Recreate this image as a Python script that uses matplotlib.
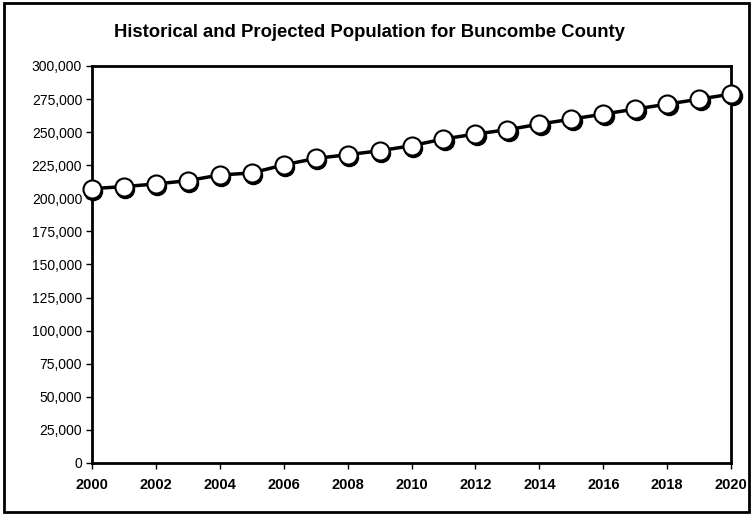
import numpy as np
import matplotlib
matplotlib.use("Agg")
import matplotlib.pyplot as plt
import matplotlib.transforms as mtransforms
from matplotlib.ticker import FuncFormatter

plt.rcParams['font.family'] = ['Liberation Sans', 'DejaVu Sans']

# datos
years = list(range(2000, 2021))
population = [207300, 208800, 210800, 213300, 217600, 219100, 225200,
              230100, 232900, 235900, 239700, 244800, 248500, 251800,
              256000, 259800, 263600, 267400, 271100, 274900, 278700]
year_ticks = list(range(2000, 2021, 2))
pop_ticks = list(range(0, 300001, 25000))

fig = plt.figure(figsize=(7.53, 5.15), dpi=100)
ax = fig.add_axes([0.122, 0.101, 0.849, 0.771])

# sombra de los marcadores
shadow = mtransforms.offset_copy(ax.transData, fig=fig, x=1.5, y=-2, units='dots')
ax.plot(years, population, linestyle='none', marker='o', markersize=13,
        markerfacecolor='black', markeredgecolor='black', transform=shadow,
        clip_on=False, zorder=2)
ax.plot(years, population, color='black', linewidth=2.5, marker='o',
        markersize=13, markerfacecolor='white', markeredgecolor='black',
        markeredgewidth=1.5, clip_on=False, zorder=3)

ax.set_xlim(2000, 2020)
ax.set_ylim(0, 300000)
ax.set_xticks(year_ticks)
ax.set_yticks(pop_ticks)
ax.yaxis.set_major_formatter(FuncFormatter(lambda v, p: f"{int(v):,}"))
ax.tick_params(axis='x', direction='out', length=4, width=1,
               labelsize=10.5, pad=7)
ax.tick_params(axis='y', direction='out', length=4, width=1, labelsize=10, pad=3)
for lab in ax.get_xticklabels():
    lab.set_fontweight('bold')

for s in ax.spines.values():
    s.set_linewidth(2)

fig.text(0.49, 0.936, "Historical and Projected Population for Buncombe County",
         fontsize=13.3, fontweight='bold', ha='center', va='center')

# marco exterior
fig.patches.append(plt.Rectangle((0.005, 0.006), 0.99, 0.988, transform=fig.transFigure,
                                 fill=False, edgecolor='black', linewidth=2))

fig.savefig("out.png", dpi=100)
